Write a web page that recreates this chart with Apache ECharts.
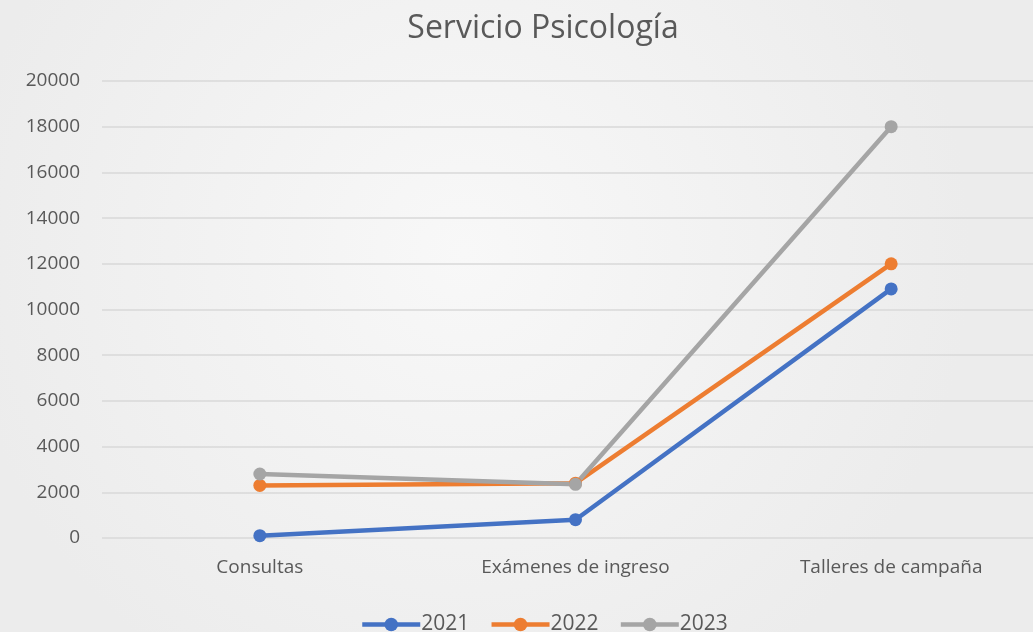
<!DOCTYPE html>
<html>
<head>
<meta charset="utf-8">
<script src="https://cdn.jsdelivr.net/npm/echarts@6/dist/echarts.min.js"></script>
<style>
  html, body { margin: 0; padding: 0; }
  #chart { width: 1033px; height: 632px; }
</style>
</head>
<body>
<div id="chart"></div>
<script>
const categories = ['Consultas', 'Exámenes de ingreso', 'Talleres de campaña']
const seriesNames = ['2021', '2022', '2023']
const values2021 = [100, 800, 10900]
const values2022 = [2300, 2400, 12000]
const values2023 = [2800, 2350, 18000]
const colors = ['#4472c4', '#ed7d31', '#a5a5a5']

const chart = echarts.init(document.getElementById('chart'))
const font = "Open Sans, 'Noto Sans', sans-serif"
const data = [values2021, values2022, values2023]

chart.setOption({
  backgroundColor: {
    type: 'radial', x: 0.45, y: 0.4, r: 0.8,
    colorStops: [{ offset: 0, color: '#f8f8f8' }, { offset: 1, color: '#ececec' }]
  },
  title: {
    text: 'Servicio Psicología',
    left: 538, top: 8, textAlign: 'center',
    textStyle: { color: '#595959', fontSize: 32, fontWeight: 'normal', fontFamily: font }
  },
  legend: {
    data: seriesNames,
    bottom: -8, left: 355,
    itemWidth: 58, itemHeight: 17, itemGap: 20,
    lineStyle: { width: 4.5 },
    textStyle: { color: '#595959', fontSize: 21, fontFamily: font, padding: [0, 0, 0, -4] }
  },
  grid: { left: 102, width: 947, top: 81, bottom: 94, outerBoundsMode: 'none' },
  xAxis: {
    type: 'category',
    data: categories,
    axisLine: { show: false },
    axisTick: { show: false },
    axisLabel: { color: '#595959', fontSize: 19, fontFamily: font, margin: 20 }
  },
  yAxis: {
    type: 'value',
    min: 0, max: 20000, interval: 2000,
    axisLine: { show: false },
    axisTick: { show: false },
    axisLabel: {
      color: '#595959', fontSize: 19, fontFamily: font, margin: 22, align: 'right',
      formatter: v => String(v)
    },
    splitLine: { lineStyle: { color: '#d9d9d9', width: 1.5 } }
  },
  series: seriesNames.map((name, i) => ({
    name,
    type: 'line',
    data: data[i],
    symbol: 'circle',
    symbolSize: 13,
    color: colors[i],
    lineStyle: { width: 4.5, color: colors[i] },
    itemStyle: { color: colors[i] }
  }))
})
</script>
</body>
</html>
